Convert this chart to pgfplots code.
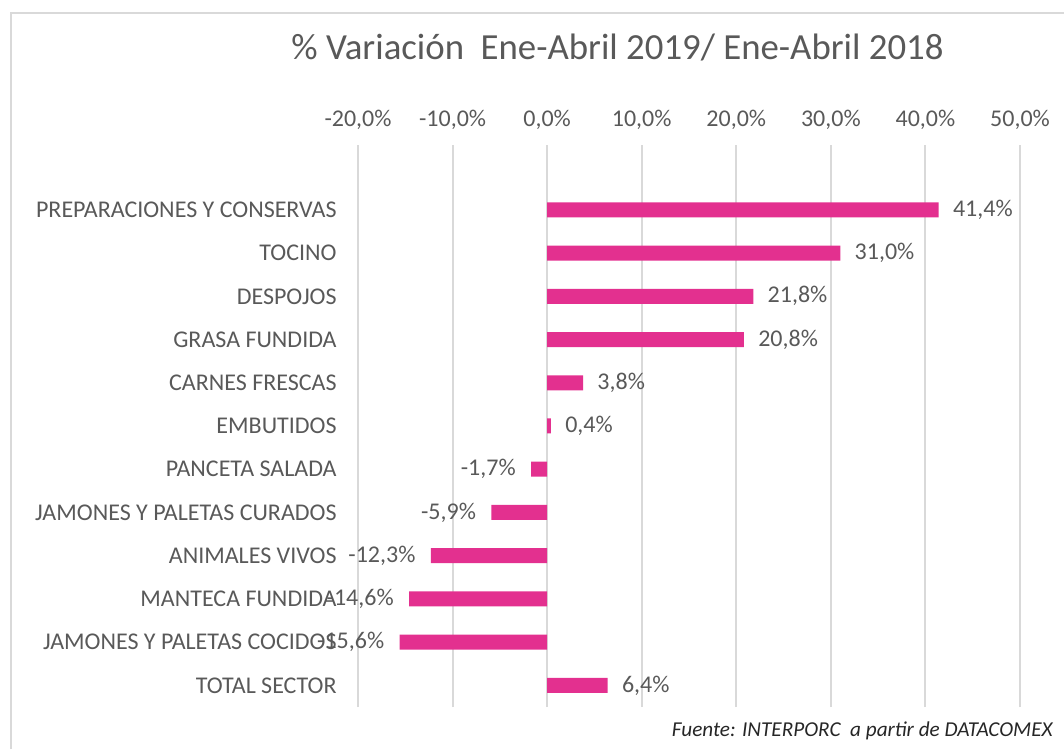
\documentclass[border=0pt]{standalone}
\usepackage{pgfplots}
\pgfplotsset{compat=1.18}
\usepackage{fontspec}
\setmainfont{Carlito}
\definecolor{barc}{RGB}{227,48,143}
\definecolor{txt}{RGB}{89,89,89}
\definecolor{grd}{RGB}{217,217,217}
\definecolor{src}{RGB}{38,38,38}
\begin{document}
\begin{tikzpicture}
\useasboundingbox (0pt,0pt) rectangle (532pt,374.5pt);
\draw[grd, line width=1pt] (5.5pt,0pt) -- (5.5pt,367.8pt) -- (532pt,367.8pt);
\node[anchor=base, text=txt, font=\fontsize{18.4}{22}\selectfont, inner sep=0pt] at (308.75pt,344.5pt) {\% Variación\ \ Ene-Abril 2019/ Ene-Abril 2018};
\begin{axis}[at={(179pt,21pt)}, anchor=south west, scale only axis,
  width=331pt, height=281pt,
  xmin=-20, xmax=50, ymin=-0.5, ymax=12.5,
  xtick={-20,-10,...,50},
  xticklabels={{-20,0\%},{-10,0\%},{0,0\%},{10,0\%},{20,0\%},{30,0\%},{40,0\%},{50,0\%}},
  xticklabel pos=upper,
  ytick={0,...,11},
  yticklabels={TOTAL SECTOR, JAMONES Y PALETAS COCIDOS, MANTECA FUNDIDA, ANIMALES VIVOS, JAMONES Y PALETAS CURADOS, PANCETA SALADA, EMBUTIDOS, CARNES FRESCAS, GRASA FUNDIDA, DESPOJOS, TOCINO, PREPARACIONES Y CONSERVAS},
  tick label style={font=\fontsize{12}{14}\selectfont, text=txt, inner sep=0pt},
  xticklabel style={anchor=base, yshift=9pt},
  yticklabel style={anchor=east, xshift=-10.5pt},
  axis line style={draw=none},
  tick style={draw=none},
  major tick length=0pt,
  xmajorgrids, major grid style={grd, line width=1pt},
  point meta=x,
  every node near coord/.append style={font=\fontsize{12}{14}\selectfont, text=txt, inner sep=0pt},
]
\addplot[xbar, bar width=7.5pt, bar shift=0pt, fill=barc, draw=none,
  nodes near coords={\pgfmathprintnumber[fixed,fixed zerofill,precision=1,use comma,assume math mode=true]{\pgfplotspointmeta}\%},
  nodes near coords style={anchor=west, xshift=7pt}]
  coordinates {(6.4,0) (0.4,6) (3.8,7) (20.8,8) (21.8,9) (31.0,10) (41.4,11)};
\addplot[xbar, bar width=7.5pt, bar shift=0pt, fill=barc, draw=none,
  nodes near coords={\pgfmathprintnumber[fixed,fixed zerofill,precision=1,use comma,assume math mode=true]{\pgfplotspointmeta}\%},
  nodes near coords style={anchor=east, xshift=-7.5pt}]
  coordinates {(-15.6,1) (-14.6,2) (-12.3,3) (-5.9,4) (-1.7,5)};
\end{axis}
\node[anchor=base east, font=\fontsize{10.6}{13}\selectfont\itshape, text=src, inner sep=0pt] at (526.5pt,6.5pt) {Fuente: INTERPORC\ \ a partir de DATACOMEX};
\end{tikzpicture}
\end{document}
